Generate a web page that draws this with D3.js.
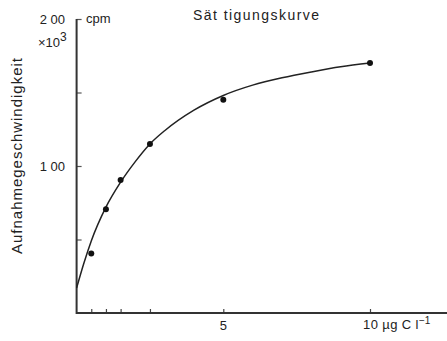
<!DOCTYPE html>
<html>
<head>
<meta charset="utf-8">
<script src="https://cdn.jsdelivr.net/npm/d3@7"></script>
<style>
  body { margin: 0; background: #fff; }
  text { font-family: "Liberation Sans", Arial, sans-serif; fill: #222; }
</style>
</head>
<body>
<div id="chart"></div>
<script>
"use strict"

// measured points (concentration, uptake rate x10^3 cpm)
let concentrations = [0.5, 1, 1.5, 2.5, 5, 10];
let uptakeRates = [40.5, 70.5, 90.5, 115, 145, 170];

// saturation curve
let curveX = [0, 0.25, 0.5, 1, 1.5, 2, 2.5, 3, 4, 5, 6, 7, 8, 9, 10];
let curveY = [17, 34, 49, 72, 89, 103, 115, 124, 138, 148, 155, 160, 164, 167.5, 170];

let xTicks = [0.5, 1, 1.5, 2.5, 5, 10];
let yTicks = [50, 100, 150, 200];

let width = 447, height = 341;

let drawing = d3.select("#chart")
    .append("svg")
    .attr("width", width)
    .attr("height", height);

let x = d3.scaleLinear().domain([0, 10]).range([76.6, 370]);
let y = d3.scaleLinear().domain([0, 200]).range([313, 19]);

/* axes */
let xAxis = d3.axisTop(x).tickValues(xTicks).tickSize(4).tickFormat("");
drawing.append("g")
    .attr("transform", "translate(0," + y(0) + ")")
    .call(xAxis)
    .call(g => g.select(".domain").remove())
    .call(g => g.selectAll(".tick line").attr("stroke", "#444").attr("stroke-width", 1.2));

let yAxis = d3.axisRight(y).tickValues(yTicks).tickSize(5).tickFormat("");
drawing.append("g")
    .attr("transform", "translate(" + x(0) + ",0)")
    .call(yAxis)
    .call(g => g.select(".domain").remove())
    .call(g => g.selectAll(".tick line").attr("stroke", "#555").attr("stroke-width", 1.2));

drawing.append("path")
    .attr("d", "M" + x(0) + "," + y(200) + "V" + y(0) + "H" + width)
    .attr("fill", "none")
    .attr("stroke", "#333")
    .attr("stroke-width", 2);

/* labels */
drawing.append("text").attr("x", x(5)).attr("y", 330)
    .attr("text-anchor", "middle").attr("font-size", 13).text("5");
let unit = drawing.append("text").attr("x", 363).attr("y", 329).attr("font-size", 13);
unit.append("tspan").attr("letter-spacing", 0.4).text("10 µg C  l");
unit.append("tspan").attr("dy", -5).attr("font-size", 10).text("−1");

drawing.append("text").attr("x", 65).attr("y", y(100) + 5)
    .attr("text-anchor", "end").attr("font-size", 13).text("1 00");
drawing.append("text").attr("x", 65).attr("y", 24)
    .attr("text-anchor", "end").attr("font-size", 13).text("2 00");
drawing.append("text").attr("x", 86).attr("y", 23).attr("font-size", 13).text("cpm");
let exp = drawing.append("text").attr("x", 38).attr("y", 47).attr("font-size", 13);
exp.append("tspan").text("×10");
exp.append("tspan").attr("dy", -6).attr("font-size", 12).text("3");

drawing.append("text")
    .attr("transform", "translate(22,156) rotate(-90)")
    .attr("text-anchor", "middle").attr("font-size", 15)
    .attr("textLength", 196).attr("lengthAdjust", "spacing")
    .text("Aufnahmegeschwindigkeit");

drawing.append("text").attr("x", 193).attr("y", 20)
    .attr("font-size", 14)
    .attr("textLength", 126).attr("lengthAdjust", "spacing")
    .text("Sät tigungskurve");

/* curve and points */
let line = d3.line()
    .x(i => x(curveX[i]))
    .y(i => y(curveY[i]))
    .curve(d3.curveMonotoneX);

drawing.append("path")
    .attr("d", line(d3.range(curveX.length)))
    .attr("fill", "none")
    .attr("stroke", "#222")
    .attr("stroke-width", 1.5);

drawing.selectAll("circle")
    .data(d3.range(concentrations.length))
    .enter().append("circle")
    .attr("cx", i => x(concentrations[i]))
    .attr("cy", i => y(uptakeRates[i]))
    .attr("r", 3)
    .attr("fill", "#111");
</script>
</body>
</html>
